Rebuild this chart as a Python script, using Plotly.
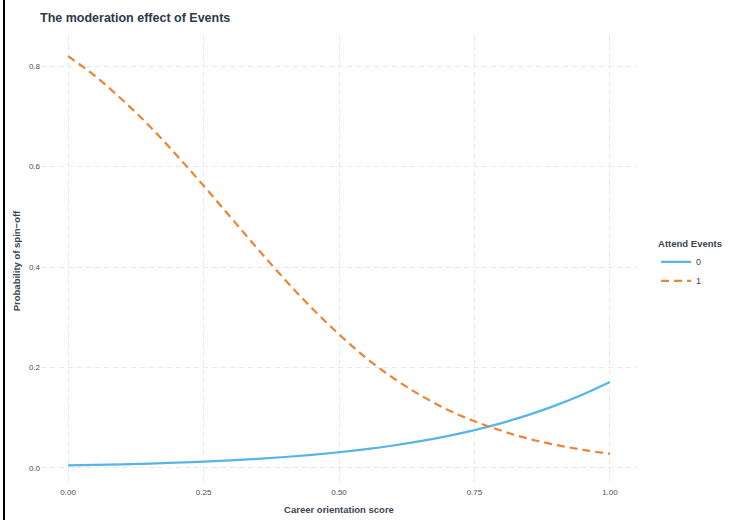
import plotly.graph_objects as go

career_score = [0.00, 0.05, 0.10, 0.15, 0.20, 0.25, 0.30, 0.35, 0.40, 0.45, 0.50,
                0.55, 0.60, 0.65, 0.70, 0.75, 0.80, 0.85, 0.90, 0.95, 1.00]
prob_events_0 = [0.0050, 0.0060, 0.0072, 0.0087, 0.0105, 0.0126, 0.0151, 0.0181, 0.0217, 0.0260, 0.0312,
                 0.0373, 0.0446, 0.0532, 0.0634, 0.0753, 0.0893, 0.1056, 0.1245, 0.1462, 0.1710]
prob_events_1 = [0.820, 0.780, 0.733, 0.681, 0.623, 0.562, 0.499, 0.436, 0.375, 0.318, 0.266,
                 0.219, 0.179, 0.145, 0.116, 0.093, 0.074, 0.058, 0.046, 0.036, 0.028]
x_ticks = [0.00, 0.25, 0.50, 0.75, 1.00]
x_tick_labels = ["0.00", "0.25", "0.50", "0.75", "1.00"]
y_ticks = [0.0, 0.2, 0.4, 0.6, 0.8]
y_tick_labels = ["0.0", "0.2", "0.4", "0.6", "0.8"]

FONT = "Liberation Sans, Arial, sans-serif"

fig = go.Figure()
fig.add_trace(go.Scatter(x=career_score, y=prob_events_0, mode="lines", name="0",
                         line=dict(color="#56B4E9", width=2.2, shape="spline")))
fig.add_trace(go.Scatter(x=career_score, y=prob_events_1, mode="lines", name="1",
                         line=dict(color="#EE8433", width=2.2, dash="8px,5px", shape="spline")))

fig.update_layout(
    width=736, height=520,
    paper_bgcolor="white", plot_bgcolor="white",
    margin=dict(l=41, r=99, t=36, b=34, autoexpand=False),
    font=dict(family=FONT, color="#4D4D4D"),
    title=dict(text="<b>The moderation effect of Events</b>", x=40/736, xanchor="left",
               y=1 - 18/520, yanchor="middle", font=dict(size=12.5, color="#2E3A4A")),
    xaxis=dict(range=[-0.05, 1.05], tickvals=x_ticks, ticktext=x_tick_labels,
               showgrid=True, gridcolor="#E8E8E8", griddash="5px,4px", gridwidth=1,
               zeroline=False, showline=False, ticks="", automargin=False,
               tickfont=dict(size=8, color="#4D4D4D"),
               title=dict(text="<b>Career orientation score</b>", font=dict(size=9.5, color="#3C4450"), standoff=10)),
    yaxis=dict(range=[-0.036, 0.86], tickvals=y_ticks, ticktext=y_tick_labels,
               showgrid=True, gridcolor="#E8E8E8", griddash="5px,4px", gridwidth=1,
               zeroline=False, showline=False, ticks="", automargin=False,
               tickfont=dict(size=8, color="#4D4D4D"),
               title=dict(text="<b>Probability of spin\u2212off</b>", font=dict(size=9.5, color="#3C4450"), standoff=6)),
    legend=dict(title=dict(text="<b>Attend Events</b>", font=dict(size=9.5, color="#3C4450")),
                x=1.032, xanchor="left", y=0.49, yanchor="middle",
                font=dict(size=9, color="#3C4450"), bgcolor="rgba(0,0,0,0)"),
    shapes=[dict(type="line", xref="paper", yref="paper",
                 x0=-37/596, x1=-37/596, y0=-34/450, y1=1 + 36/450,
                 line=dict(color="black", width=2))],
)

fig.write_html("out.html", config={"displayModeBar": False},
               post_script="document.body.style.margin='0';")
